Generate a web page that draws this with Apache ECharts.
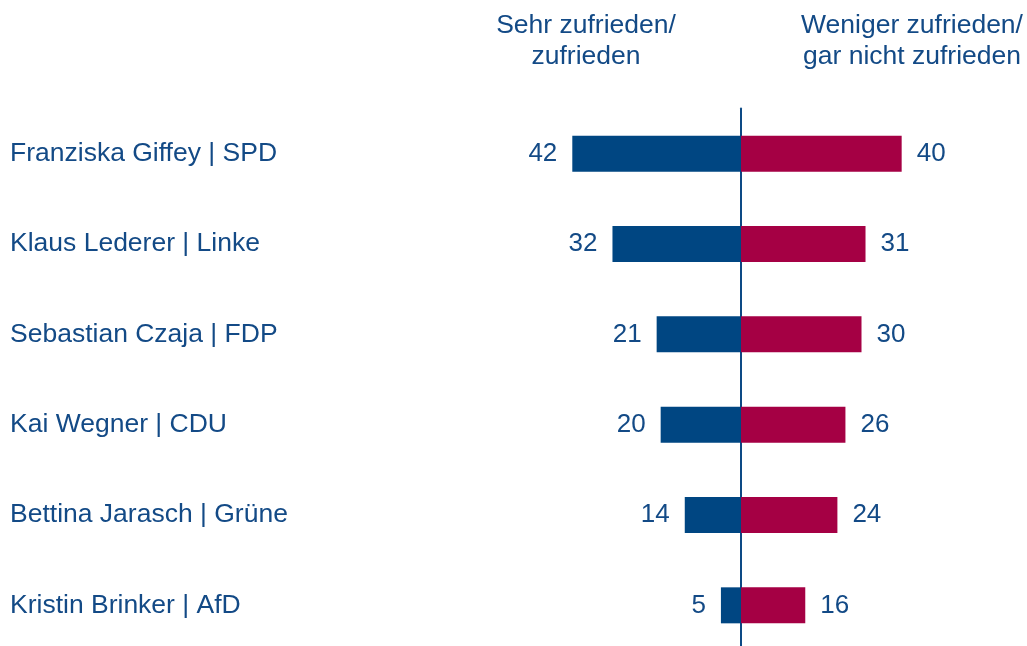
<!DOCTYPE html>
<html lang="de">
<head>
    <meta charset="UTF-8">
    <title>Zufriedenheit</title>
    <style>
        html, body { margin: 0; padding: 0; background: #fff; }
    </style>
</head>
<body>
<script src="https://cdn.jsdelivr.net/npm/echarts@6/dist/echarts.min.js"></script>
<div id="main" style="width: 1027px;height:646px;"></div>

<script>
    var myChart = echarts.init(document.getElementById('main'));

    // Politiker / Partei
    var names = [
        'Franziska Giffey | SPD',
        'Klaus Lederer | Linke',
        'Sebastian Czaja | FDP',
        'Kai Wegner | CDU',
        'Bettina Jarasch | Grüne',
        'Kristin Brinker | AfD'
    ];
    // sehr zufrieden / zufrieden
    var zufrieden = [42, 32, 21, 20, 14, 5];
    // weniger / gar nicht zufrieden
    var unzufrieden = [40, 31, 30, 26, 24, 16];

    var headLeft = 'Sehr zufrieden/\nzufrieden';
    var headRight = 'Weniger zufrieden/\ngar nicht zufrieden';

    var textColor = '#134a86';
    var font = 'Liberation Sans, Arial, sans-serif';

    // links negativ zeichnen
    var leftData = zufrieden.map(function (v) { return -v; });

    var option = {
        animation: false,
        textStyle: { fontFamily: font },
        grid: {
            left: 500,
            width: 482,
            top: 108.5,
            height: 542,
            outerBoundsMode: 'none'
        },
        graphic: [
            {
                type: 'text',
                x: 586,
                y: 10,
                style: {
                    text: headLeft,
                    fill: textColor,
                    font: '26.5px ' + font,
                    align: 'center',
                    textAlign: 'center',
                    lineHeight: 31
                }
            },
            {
                type: 'text',
                x: 912,
                y: 10,
                style: {
                    text: headRight,
                    fill: textColor,
                    font: '26.5px ' + font,
                    align: 'center',
                    textAlign: 'center',
                    lineHeight: 31
                }
            }
        ],
        xAxis: {
            type: 'value',
            min: -60,
            max: 60,
            show: false
        },
        yAxis: {
            type: 'category',
            data: names,
            inverse: true,
            axisLine: {
                onZero: true,
                lineStyle: { color: '#0d4a85', width: 2 }
            },
            axisTick: { show: false },
            axisLabel: {
                align: 'left',
                margin: 490,
                color: textColor,
                fontSize: 26.5,
                fontFamily: font
            }
        },
        series: [
            {
                name: 'zufrieden',
                type: 'bar',
                data: leftData,
                barWidth: 36,
                barGap: '-100%',
                itemStyle: { color: '#004682' },
                label: {
                    show: true,
                    position: 'left',
                    distance: 15,
                    color: textColor,
                    fontSize: 26,
                    fontFamily: font,
                    formatter: function (p) { return Math.abs(p.value); }
                }
            },
            {
                name: 'unzufrieden',
                type: 'bar',
                data: unzufrieden,
                barWidth: 36,
                barGap: '-100%',
                itemStyle: { color: '#a50044' },
                label: {
                    show: true,
                    position: 'right',
                    distance: 15,
                    color: textColor,
                    fontSize: 26,
                    fontFamily: font
                }
            }
        ]
    };

    myChart.setOption(option);
</script>
</body>
</html>
